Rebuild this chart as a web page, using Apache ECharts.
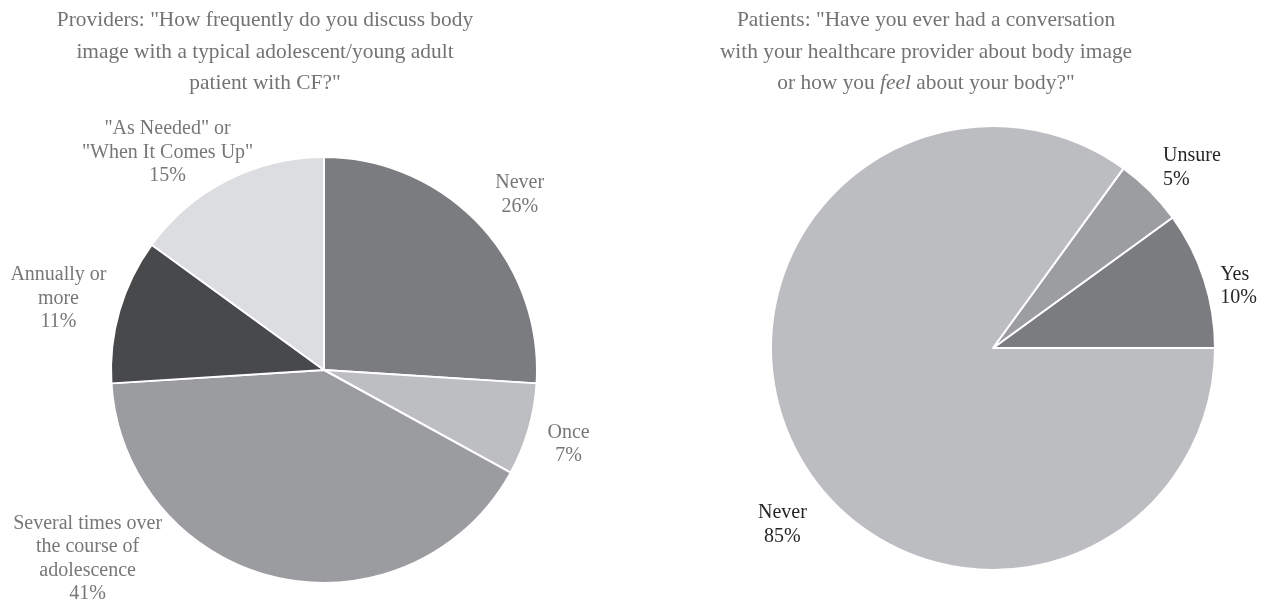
<!DOCTYPE html>
<html>
<head>
<meta charset="utf-8">
<script src="https://cdn.jsdelivr.net/npm/echarts@6/dist/echarts.min.js"></script>
<style>
html,body{margin:0;padding:0;background:#fff;}
#chart{width:1273px;height:602px;}
</style>
</head>
<body>
<div id="chart"></div>
<script>
// ---- data ----
var providerCategories = ['Never', 'Once', 'Several times over\nthe course of\nadolescence', 'Annually or\nmore', '"As Needed" or\n"When It Comes Up"'];
var providerValues = [26, 7, 41, 11, 15];
var patientCategories = ['Yes', 'Unsure', 'Never'];
var patientValues = [10, 5, 85];
var providerTitle = 'Providers: "How frequently do you discuss body\nimage with a typical adolescent/young adult\npatient with CF?"';
var patientTitle = 'Patients: "Have you ever had a conversation\nwith your healthcare provider about body image\nor how you {i|feel} about your body?"';

// ---- styles / layout ----
var providerColors = ['#7b7c80', '#bdbec2', '#9b9ca0', '#48494b', '#dcdde0'];
var patientColors = ['#7b7c80', '#9c9da1', '#bcbdc1'];
var providerLabelShift = [[4, 5], [-8, 1], [-179, -68], [-13, 2], [-37, 17]];
var patientLabelShift = [[-3, 13], [-1, -9], [5, 67]];
var patientLabelAlign = [null, null, 'center'];
var serif = '"Liberation Serif", "Times New Roman", serif';

function toData(names, values, colors) {
  return names.map(function (n, i) {
    return { name: n, value: values[i], itemStyle: { color: colors[i] } };
  });
}

var chart = echarts.init(document.getElementById('chart'), null, { renderer: 'canvas' });
chart.setOption({
  animation: false,
  backgroundColor: '#ffffff',
  title: [
    {
      text: providerTitle, left: 260, top: 0, textAlign: 'center',
      textStyle: { fontFamily: serif, fontSize: 21.4, fontWeight: 'normal', color: '#737373', lineHeight: 31.5 }
    },
    {
      text: patientTitle, left: 921, top: 0, textAlign: 'center',
      textStyle: {
        fontFamily: serif, fontSize: 21.4, fontWeight: 'normal', color: '#737373', lineHeight: 31.5,
        rich: { i: { fontStyle: 'italic', fontFamily: serif, fontSize: 21.4, color: '#737373', lineHeight: 31.5 } }
      }
    }
  ],
  series: [
    {
      type: 'pie',
      center: [324, 370],
      radius: 213,
      startAngle: 90,
      clockwise: true,
      avoidLabelOverlap: false,
      silent: true,
      itemStyle: { borderColor: '#ffffff', borderWidth: 2 },
      label: {
        show: true, position: 'outside', distanceToLabelLine: 0,
        formatter: function (p) { return p.name + '\n' + p.value + '%'; },
        fontFamily: serif, fontSize: 20, color: '#777777', lineHeight: 23.5
      },
      labelLine: { show: false, length: 50, length2: 0 },
      labelLayout: function (p) {
        var s = providerLabelShift[p.dataIndex];
        return { dx: s[0], dy: s[1], align: 'center' };
      },
      data: toData(providerCategories, providerValues, providerColors)
    },
    {
      type: 'pie',
      center: [993, 348],
      radius: 222,
      startAngle: 0,
      clockwise: false,
      avoidLabelOverlap: false,
      silent: true,
      itemStyle: { borderColor: '#ffffff', borderWidth: 2 },
      label: {
        show: true, position: 'outside', distanceToLabelLine: 0,
        formatter: function (p) { return p.name + '\n' + p.value + '%'; },
        fontFamily: serif, fontSize: 20, color: '#262626', lineHeight: 23.5
      },
      labelLine: { show: false, length: 20, length2: 0 },
      labelLayout: function (p) {
        var s = patientLabelShift[p.dataIndex];
        var r = { dx: s[0], dy: s[1] };
        if (patientLabelAlign[p.dataIndex]) r.align = patientLabelAlign[p.dataIndex];
        return r;
      },
      data: toData(patientCategories, patientValues, patientColors)
    }
  ]
});
</script>
</body>
</html>
